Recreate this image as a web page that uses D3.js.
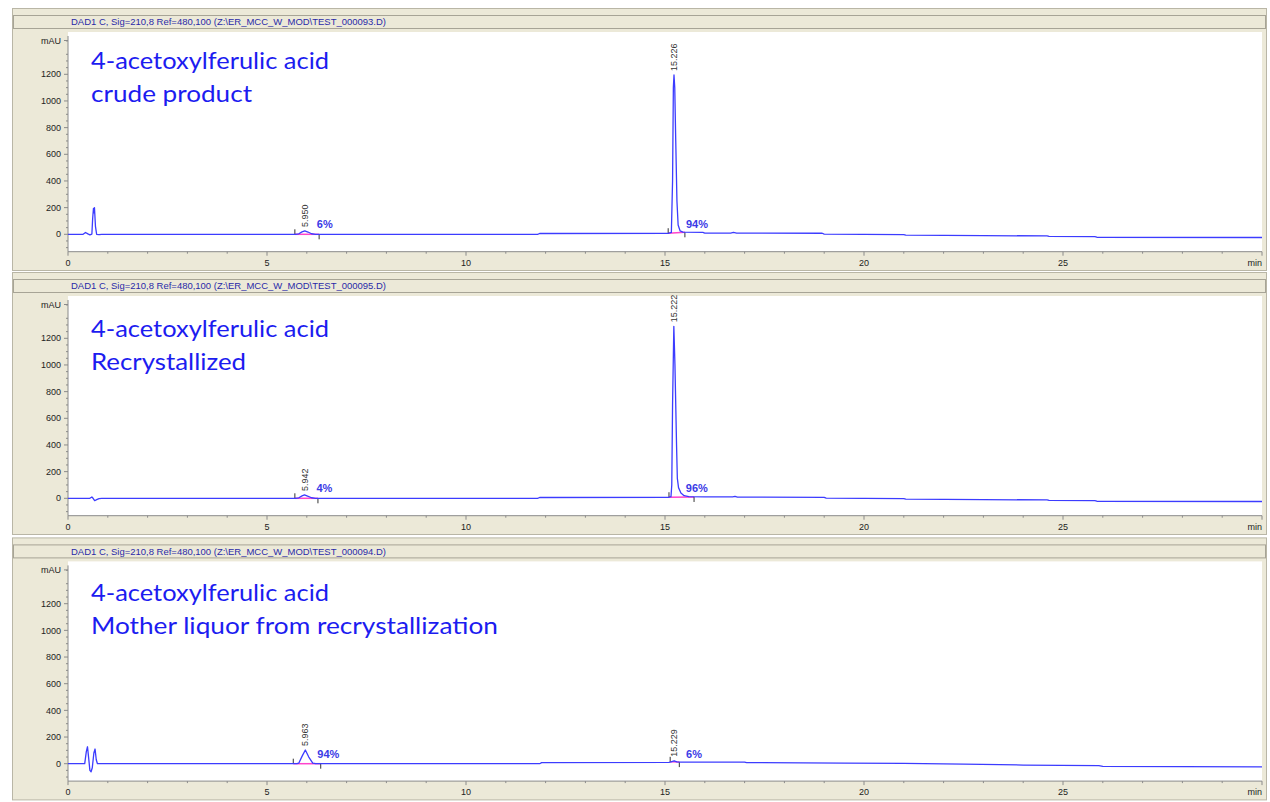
<!DOCTYPE html>
<html>
<head>
<meta charset="utf-8">
<script src="https://cdn.jsdelivr.net/npm/d3@7"></script>
<style>
  html, body { margin: 0; padding: 0; background: #ffffff; }
  svg { display: block; }
  .tick-label { font-family: "Liberation Sans", Arial, sans-serif; font-size: 9px; fill: #222; }
</style>
</head>
<body>
<svg id="chart" width="1270" height="802"></svg>
<script>
// ---- data -------------------------------------------------------------
const timeTicks = [0, 5, 10, 15, 20, 25];
const signalTicks = [0, 200, 400, 600, 800, 1000, 1200];

const headers = [
  "DAD1 C, Sig=210,8 Ref=480,100 (Z:\\ER_MCC_W_MOD\\TEST_000093.D)",
  "DAD1 C, Sig=210,8 Ref=480,100 (Z:\\ER_MCC_W_MOD\\TEST_000095.D)",
  "DAD1 C, Sig=210,8 Ref=480,100 (Z:\\ER_MCC_W_MOD\\TEST_000094.D)"
];
const titleLine1 = ["4-acetoxylferulic acid", "4-acetoxylferulic acid", "4-acetoxylferulic acid"];
const titleLine2 = ["crude product", "Recrystallized", "Mother liquor from recrystallization"];

// chromatograms: [retention time (min), signal (mAU)]
const crudeTrace = [
  [0, 0], [0.38, 0], [0.44, 14], [0.50, 3], [0.55, -4], [0.60, 2], [0.62, 120], [0.64, 195],
  [0.655, 160], [0.665, 200], [0.69, 60], [0.72, 0], [0.78, -3], [0.85, 0],
  [5.72, 0], [5.80, 4], [5.88, 18], [5.95, 25], [6.03, 17], [6.12, 4], [6.22, 0],
  [11.80, 0], [11.85, 6], [15.10, 8], [15.16, 14], [15.19, 400], [15.21, 1100], [15.226, 1195],
  [15.245, 1100], [15.27, 700], [15.30, 250], [15.33, 70], [15.38, 25], [15.45, 16],
  [15.95, 15], [16.0, 9], [16.65, 9], [16.72, 14], [16.8, 9], [18.95, 8], [19.0, 2],
  [21.0, -2], [21.05, -6], [23.0, -10], [24.6, -12], [24.65, -16], [25.8, -18], [25.85, -22], [30, -24]
];
const recrystTrace = [
  [0, 0], [0.55, 0], [0.60, 10], [0.63, 0], [0.67, -18], [0.72, -10], [0.78, -2], [0.85, 0],
  [5.72, 0], [5.80, 4], [5.88, 18], [5.942, 25], [6.02, 16], [6.12, 4], [6.22, 0],
  [11.80, 0], [11.85, 6], [15.10, 8], [15.15, 12], [15.17, 100], [15.19, 700], [15.222, 1290],
  [15.25, 1000], [15.29, 400], [15.31, 150], [15.34, 80], [15.40, 40], [15.48, 20], [15.6, 13],
  [16.0, 10], [16.7, 10], [16.76, 14], [16.82, 9], [19.0, 7], [19.05, 2],
  [21.0, -2], [21.05, -6], [23.0, -10], [24.6, -12], [24.65, -16], [25.8, -18], [25.85, -22], [30, -24]
];
const motherTrace = [
  [0, 0], [0.42, 0], [0.46, 90], [0.49, 127], [0.52, 40], [0.55, -50], [0.58, -60], [0.61, -30],
  [0.65, 80], [0.68, 110], [0.71, 30], [0.74, 0],
  [5.75, 0], [5.80, 5], [5.88, 55], [5.963, 103], [6.05, 50], [6.15, 5], [6.22, 0],
  [11.85, 0], [11.9, 8], [15.10, 10], [15.15, 14], [15.229, 22], [15.30, 14], [15.40, 12],
  [17.0, 12], [17.05, 8], [19.5, 5], [21.0, 2], [22.5, -3], [24.0, -10], [25.9, -15], [26.0, -20], [30, -24]
];
const traces = [crudeTrace, recrystTrace, motherTrace];

// integrated peaks: retention time, area share, integration window
const crudePeaks = [
  { rt: 5.950, label: "5.950", pct: "6%", start: 5.70, end: 6.31 },
  { rt: 15.226, label: "15.226", pct: "94%", start: 15.08, end: 15.50 }
];
const recrystPeaks = [
  { rt: 5.942, label: "5.942", pct: "4%", start: 5.70, end: 6.28 },
  { rt: 15.222, label: "15.222", pct: "96%", start: 15.10, end: 15.73 }
];
const motherPeaks = [
  { rt: 5.963, label: "5.963", pct: "94%", start: 5.66, end: 6.35 },
  { rt: 15.229, label: "15.229", pct: "6%", start: 15.13, end: 15.36 }
];
const peaks = [crudePeaks, recrystPeaks, motherPeaks];

// ---- layout -----------------------------------------------------------
const panelTops = [8, 272, 537.4];
const title1Base = [69.3, 336.7, 601];
const title2Base = [102, 369.5, 634];
const BEIGE = "#ece9d8";
const TRACE = "#3c3cff";

const svg = d3.select("#chart");
const x = d3.scaleLinear().domain([0, 30]).range([68, 1262]);

panelTops.forEach((top, i) => {
  const g = svg.append("g");
  const zeroY = top + 226.3;
  const axisY = top + 243.7;
  const y = d3.scaleLinear().domain([0, 1200]).range([zeroY, zeroY - 160]);

  // window frame
  g.append("rect").attr("x", 12.5).attr("y", top + 0.5).attr("width", 1254).attr("height", 262)
    .attr("fill", BEIGE).attr("stroke", "#b9b6a6");
  // header bar
  g.append("rect").attr("x", 13.5).attr("y", top + 7.5).attr("width", 1252).attr("height", 13)
    .attr("fill", BEIGE).attr("stroke", "#a7a496");
  g.append("text").attr("x", 228.5).attr("y", top + 17.3).attr("text-anchor", "middle")
    .attr("font-family", "Liberation Sans, Arial, sans-serif").attr("font-size", 9)
    .attr("fill", "#2a2aa8").attr("textLength", 315).attr("lengthAdjust", "spacingAndGlyphs")
    .text(headers[i]);

  // plot area
  g.append("rect").attr("x", x(0)).attr("y", top + 24).attr("width", x(30) - x(0))
    .attr("height", axisY - (top + 24)).attr("fill", "#ffffff");

  // y axis
  const yMinor = d3.range(-100, 1451, 50).filter(v => v % 200 !== 0);
  const yAxisG = g.append("g").attr("transform", `translate(${x(0)},0)`);
  yAxisG.append("line").attr("x1", 0).attr("x2", 0).attr("y1", top + 28).attr("y2", axisY)
    .attr("stroke", "#8a8a8a");
  yAxisG.selectAll(".ymin").data(yMinor).join("line")
    .attr("x1", -2).attr("x2", 0).attr("y1", d => y(d)).attr("y2", d => y(d)).attr("stroke", "#8a8a8a");
  yAxisG.selectAll(".ymaj").data(signalTicks).join("line")
    .attr("x1", -4).attr("x2", 0).attr("y1", d => y(d)).attr("y2", d => y(d)).attr("stroke", "#8a8a8a");
  yAxisG.selectAll(".ylab").data(signalTicks).join("text").attr("class", "tick-label")
    .attr("x", -7).attr("y", d => y(d)).attr("dy", "0.35em").attr("text-anchor", "end")
    .text(d => d);
  yAxisG.append("line").attr("x1", -4).attr("x2", 0).attr("y1", top + 32.5).attr("y2", top + 32.5)
    .attr("stroke", "#8a8a8a");
  yAxisG.append("text").attr("class", "tick-label").attr("x", -7).attr("y", top + 32.5)
    .attr("dy", "0.35em").attr("text-anchor", "end").text("mAU");

  // x axis
  const xMinor = d3.range(0, 31, 1).filter(v => v % 5 !== 0);
  const xAxisG = g.append("g").attr("transform", `translate(0,${axisY})`);
  xAxisG.append("line").attr("x1", x(0)).attr("x2", x(30)).attr("y1", 0).attr("y2", 0).attr("stroke", "#8a8a8a");
  xAxisG.selectAll(".xmin").data(xMinor).join("line")
    .attr("x1", d => x(d)).attr("x2", d => x(d)).attr("y1", 0).attr("y2", 2).attr("stroke", "#8a8a8a");
  xAxisG.selectAll(".xmaj").data(timeTicks.concat([30])).join("line")
    .attr("x1", d => x(d)).attr("x2", d => x(d)).attr("y1", 0).attr("y2", 4).attr("stroke", "#8a8a8a");
  xAxisG.selectAll(".xlab").data(timeTicks).join("text").attr("class", "tick-label")
    .attr("x", d => x(d)).attr("y", 14).attr("text-anchor", "middle").text(d => d);
  xAxisG.append("text").attr("class", "tick-label").attr("x", x(30)).attr("y", 14)
    .attr("text-anchor", "end").text("min");

  // titles
  g.append("text").attr("x", 91).attr("y", title1Base[i])
    .attr("font-family", "Lato, 'Open Sans', sans-serif").attr("font-size", 24).attr("fill", "#1c1cf0")
    .attr("textLength", 238).attr("lengthAdjust", "spacingAndGlyphs").text(titleLine1[i]);
  const t2 = g.append("text").attr("x", 91).attr("y", title2Base[i])
    .attr("font-family", "Lato, 'Open Sans', sans-serif").attr("font-size", 24).attr("fill", "#1c1cf0")
    .text(titleLine2[i]);
  const t2w = [161, 155, 407][i];
  t2.attr("textLength", t2w).attr("lengthAdjust", "spacingAndGlyphs");

  // integration baselines
  const trace = traces[i];
  const valueAt = t => {
    const k = d3.bisector(d => d[0]).left(trace, t);
    return trace[Math.max(0, Math.min(trace.length - 1, k))][1];
  };
  peaks[i].forEach(p => {
    const y0 = y(valueAt(p.start));
    const y1 = y(valueAt(p.end));
    g.append("line").attr("x1", x(p.start)).attr("x2", x(p.end)).attr("y1", y0).attr("y2", y1)
      .attr("stroke", "#ff44cc").attr("stroke-width", 1.5);
    g.append("line").attr("x1", x(p.start)).attr("x2", x(p.start)).attr("y1", y0 - 5).attr("y2", y0)
      .attr("stroke", "#333");
    g.append("line").attr("x1", x(p.end)).attr("x2", x(p.end)).attr("y1", y1).attr("y2", y1 + 5)
      .attr("stroke", "#333");
  });

  // chromatogram
  const line = d3.line().x(d => x(d[0])).y(d => y(d[1]));
  g.append("path").datum(trace).attr("d", line).attr("fill", "none")
    .attr("stroke", TRACE).attr("stroke-width", 1.3).attr("stroke-linejoin", "round");

  // peak annotations
  peaks[i].forEach(p => {
    const near = trace.filter(d => Math.abs(d[0] - p.rt) < 0.1);
    const topVal = d3.max(near, d => d[1]);
    const ty = y(topVal) - 4;
    g.append("text").attr("transform", `translate(${x(p.rt)},${ty}) rotate(-90)`)
      .attr("dy", "0.35em").attr("font-family", "Liberation Sans, Arial, sans-serif")
      .attr("font-size", 9).attr("fill", "#333").text(p.label);
    g.append("text").attr("x", x(p.rt) + 12).attr("y", zeroY - 6)
      .attr("font-family", "Liberation Sans, Arial, sans-serif").attr("font-size", 11)
      .attr("font-weight", "bold").attr("fill", "#3a3ae6").text(p.pct);
  });
});
</script>
</body>
</html>
